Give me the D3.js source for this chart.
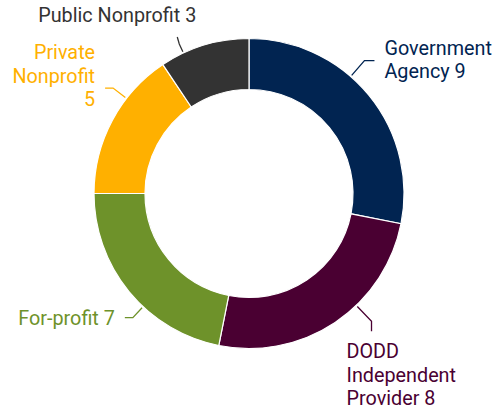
<!DOCTYPE html>
<html>
<head>
<meta charset="utf-8">
<script src="https://cdn.jsdelivr.net/npm/d3@7"></script>
<style>
  body { margin: 0; background: #fff; }
  svg text { font-family: Roboto, "Noto Sans", sans-serif; }
</style>
</head>
<body>
<svg id="chart" width="500" height="412"></svg>
<script>
// data
const categories = ['Government Agency', 'DODD Independent Provider', 'For-profit', 'Private Nonprofit', 'Public Nonprofit'];
const values = [9, 8, 7, 5, 3];
const colors = ['#012451', '#4a0032', '#6e922a', '#ffb000', '#333333'];
const labelLines = [
  ['Government', 'Agency 9'],
  ['DODD', 'Independent', 'Provider 8'],
  ['For-profit 7'],
  ['Private', 'Nonprofit', '5'],
  ['Public Nonprofit 3']
];

// label placement: leader angle (deg, clockwise from top), elbow radius, tail, text offset
const labelLayout = [
  { angle: 41, elbow: 176, tail: [10, 0], dx: 10, dy: -6, anchor: 'start' },
  { angle: 136.2, elbow: 177, tail: [0, 10], dx: -25, dy: 27, anchor: 'start' },
  { angle: 223.1, elbow: 170, tail: [-8, 0], dx: -10, dy: 7, anchor: 'end' },
  { angle: 307.8, elbow: 172, tail: [-8, 0], dx: -10, dy: -29, anchor: 'end' },
  { angle: 335, elbow: 165, tail: [-2, -7], dx: 19, dy: -15, anchor: 'end' }
];

const cx = 249, cy = 193.5;
const outerR = 155, innerR = 104;
const fontSize = 19.8, lineH = 23.5;

const svg = d3.select('#chart');
const g = svg.append('g').attr('transform', `translate(${cx},${cy})`);

const data = categories.map((c, i) => ({ name: c, value: values[i], color: colors[i], lines: labelLines[i], layout: labelLayout[i] }));

const pie = d3.pie().sort(null).value(d => d.value);
const arc = d3.arc().innerRadius(innerR).outerRadius(outerR);

g.selectAll('path.slice')
  .data(pie(data))
  .enter()
  .append('path')
  .attr('class', 'slice')
  .attr('d', arc)
  .attr('fill', d => d.data.color)
  .attr('stroke', '#fff')
  .attr('stroke-width', 1.2);

const polar = (deg, r) => {
  const a = deg * Math.PI / 180;
  return [r * Math.sin(a), -r * Math.cos(a)];
};

const labels = g.selectAll('g.label')
  .data(data)
  .enter()
  .append('g')
  .attr('class', 'label');

labels.append('polyline')
  .attr('fill', 'none')
  .attr('stroke', d => d.color)
  .attr('stroke-width', 1.3)
  .attr('points', d => {
    const l = d.layout;
    const p0 = polar(l.angle, outerR + 1.5);
    const p1 = polar(l.angle, l.elbow);
    const p2 = [p1[0] + l.tail[0], p1[1] + l.tail[1]];
    return [p0, p1, p2].map(p => p.join(',')).join(' ');
  });

labels.each(function (d) {
  const l = d.layout;
  const p1 = polar(l.angle, l.elbow);
  const x = p1[0] + l.tail[0] + l.dx;
  const y = p1[1] + l.tail[1] + l.dy;
  const t = d3.select(this).append('text')
    .attr('fill', d.color)
    .attr('font-size', fontSize)
    .attr('text-anchor', l.anchor);
  d.lines.forEach((line, i) => {
    t.append('tspan')
      .attr('x', x)
      .attr('y', y + i * lineH)
      .text(line);
  });
});
</script>
</body>
</html>
